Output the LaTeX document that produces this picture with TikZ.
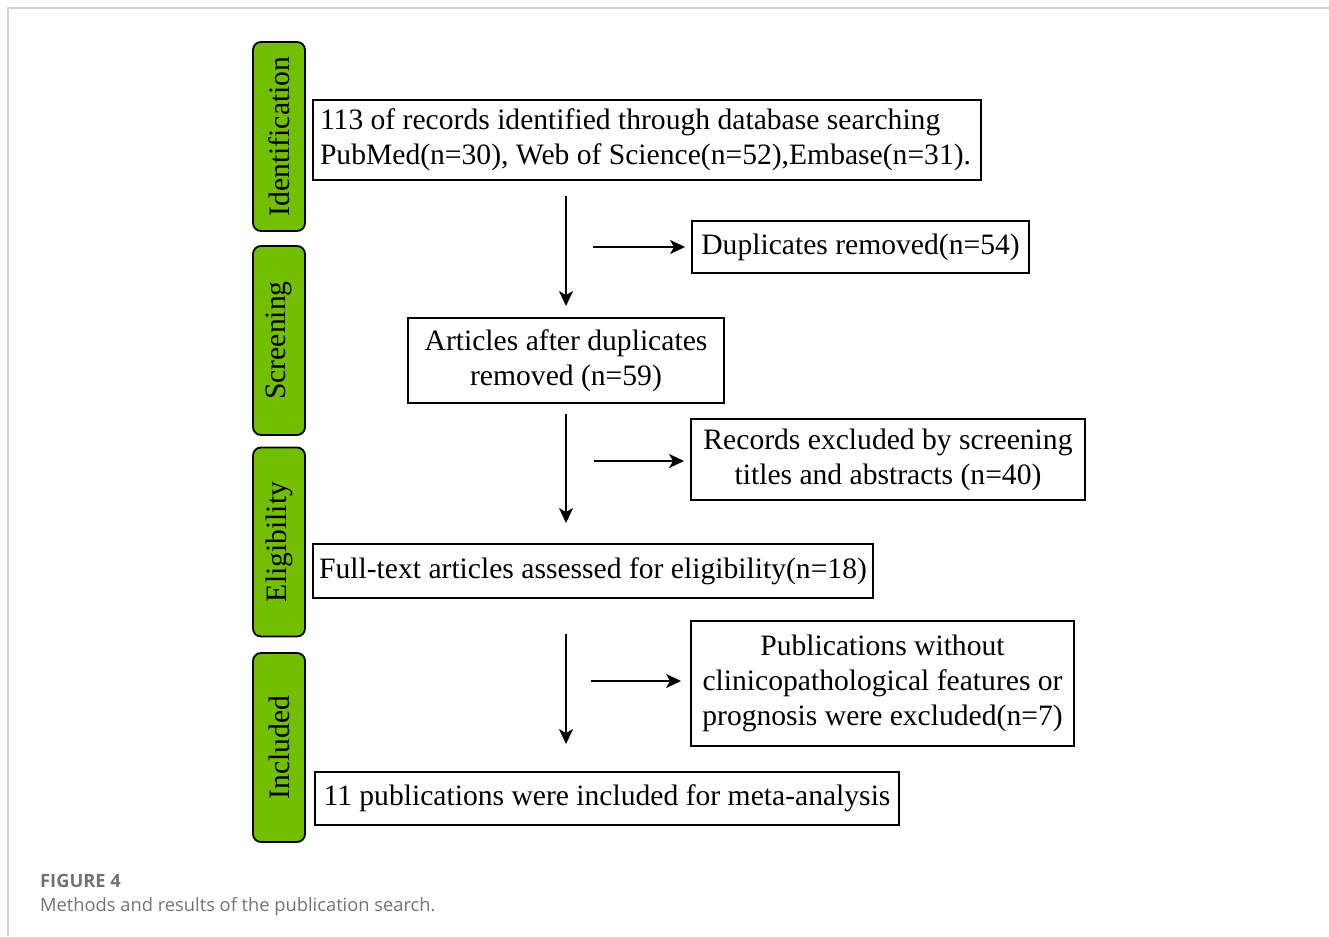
\documentclass[tikz,border=0pt]{standalone}
\usepackage{fontspec}
\setmainfont{Liberation Serif}
\newfontfamily\capfont{Open Sans}
\usepackage{xcolor}
\usetikzlibrary{arrows.meta}
\definecolor{phasegreen}{RGB}{114,190,0}
\definecolor{framegray}{RGB}{212,212,212}
\definecolor{capgray}{RGB}{115,115,115}

\begin{document}
\begin{tikzpicture}[x=1pt,y=-1pt]
\tikzset{phase/.style={draw=black,line width=1.8pt,fill=phasegreen,rounded corners=8pt,rotate=90,minimum width=189pt,minimum height=52pt,inner sep=0pt}}
\tikzset{stage/.style={draw=black,line width=1.9pt,inner sep=0pt,align=center}}
\tikzset{flow/.style={-{Stealth[length=15pt,width=14pt,inset=4pt]},line width=1.8pt}}
\tikzset{caption/.style={anchor=base west,inner sep=0pt,text=capgray}}

\fontsize{29.6}{35}\selectfont

\useasboundingbox (0,0) rectangle (1329,936);
\draw[framegray,line width=2pt] (8,936) -- (8,8) -- (1329,8);

\node[phase] (ident) at (279,136.5) {Identification};
\node[phase] (screen) at (279,340.5) {Screening};
\node[phase] (elig) at (279,542) {Eligibility};
\node[phase] (incl) at (279,747.5) {Included};

\node[stage,minimum width=668pt,minimum height=80pt,text width=654pt,align=flush left] (records) at (647,140)
  {113 of records identified through database searching\\PubMed(n=30), Web of Science(n=52),Embase(n=31).};
\node[stage,minimum width=337pt,minimum height=52pt] (dupl) at (860.5,247) {Duplicates removed(n=54)};
\node[stage,minimum width=316pt,minimum height=85pt] (after) at (566,360.5) {Articles after duplicates\\removed (n=59)};
\node[stage,minimum width=394pt,minimum height=81pt] (screxcl) at (888,459.5) {Records excluded by screening\\titles and abstracts (n=40)};
\node[stage,minimum width=560pt,minimum height=54pt] (fulltext) at (593,571) {Full-text articles assessed for eligibility(n=18)};
\node[stage,minimum width=383pt,minimum height=125pt] (noprog) at (882.5,683.5) {Publications without\\clinicopathological features or\\prognosis were excluded(n=7)};
\node[stage,minimum width=584pt,minimum height=53pt] (meta) at (607,798.5) {11 publications were included for meta-analysis};

\coordinate (dstart) at (593,247);
\coordinate (sstart) at (594,461);
\coordinate (pstart) at (591,681);

\draw[flow,shorten <=15pt,shorten >=11pt] (records.south -| after.north) -- (after.north);
\draw[flow,shorten <=10pt,shorten >=20pt] (after.south) -- (after.south |- fulltext.north);
\draw[flow,shorten <=35pt,shorten >=27pt] (after.south |- fulltext.south) -- (after.south |- meta.north);
\draw[flow,shorten >=6pt] (dstart) -- (dupl.west |- dstart);
\draw[flow,shorten >=6pt] (sstart) -- (screxcl.west |- sstart);
\draw[flow,shorten >=9pt] (pstart) -- (noprog.west |- pstart);

\node[caption,font=\capfont\bfseries\fontsize{18.3}{22}\selectfont] (fignum) at (40,887) {FIGURE 4};
\node[caption,font=\capfont\fontsize{18.3}{22}\selectfont] (figtext) at (40,911) {Methods and results of the publication search.};

\end{tikzpicture}
\end{document}
